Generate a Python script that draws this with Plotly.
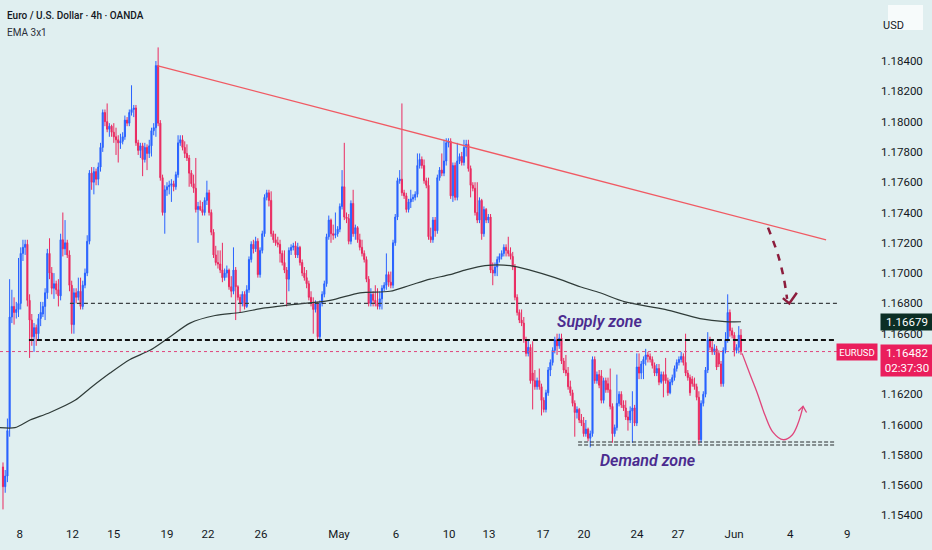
import plotly.graph_objects as go

# ---------------- data ----------------
opens = [
    1.1572, 1.1559, 1.1566, 1.1598, 1.1671, 1.1678, 1.1674, 1.1676, 1.1680, 1.1713,
    1.1717, 1.1719, 1.1682, 1.1669, 1.1658, 1.1664, 1.1660, 1.1670, 1.1673, 1.1678,
    1.1687, 1.1713, 1.1700, 1.1690, 1.1693, 1.1689, 1.1685, 1.1722, 1.1716, 1.1720,
    1.1712, 1.1692, 1.1666, 1.1687, 1.1684, 1.1688, 1.1678, 1.1692, 1.1700, 1.1721,
    1.1766, 1.1760, 1.1767, 1.1762, 1.1770, 1.1783, 1.1806, 1.1800, 1.1795, 1.1797,
    1.1793, 1.1790, 1.1788, 1.1786, 1.1787, 1.1790, 1.1801, 1.1799, 1.1806, 1.1808,
    1.1809, 1.1786, 1.1781, 1.1784, 1.1775, 1.1783,
    1.1779, 1.1784, 1.1794, 1.1796, 1.1837, 1.1799, 1.1763, 1.1740, 1.1755, 1.1757,
    1.1758, 1.1759, 1.1757, 1.1765, 1.1786, 1.1788, 1.1783, 1.1779, 1.1776, 1.1766,
    1.1759, 1.1756, 1.1742, 1.1744, 1.1742, 1.1740, 1.1748, 1.1753, 1.1740, 1.1727,
    1.1712, 1.1707, 1.1706, 1.1702, 1.1697, 1.1700, 1.1702, 1.1691, 1.1688, 1.1702,
    1.1691, 1.1684, 1.1680, 1.1686, 1.1678, 1.1689, 1.1709, 1.1719, 1.1716, 1.1721,
    1.1699, 1.1715, 1.1726, 1.1750, 1.1753, 1.1748, 1.1726, 1.1722, 1.1720, 1.1719,
    1.1713, 1.1707, 1.1702, 1.1696, 1.1715, 1.1717, 1.1718,
    1.1712, 1.1717, 1.1707, 1.1700, 1.1697, 1.1693, 1.1684, 1.1680, 1.1676, 1.1680,
    1.1658, 1.1680, 1.1686, 1.1693, 1.1724, 1.1735, 1.1726, 1.1725, 1.1726, 1.1729,
    1.1744, 1.1757, 1.1737, 1.1736, 1.1721, 1.1746, 1.1726, 1.1730, 1.1722, 1.1717,
    1.1713, 1.1709, 1.1696, 1.1680, 1.1686, 1.1682, 1.1680, 1.1678, 1.1683, 1.1690,
    1.1692, 1.1699, 1.1694, 1.1692, 1.1720, 1.1737, 1.1761, 1.1762, 1.1753, 1.1751,
    1.1742, 1.1747, 1.1749, 1.1750, 1.1752, 1.1771, 1.1775, 1.1771, 1.1761, 1.1758,
    1.1724, 1.1722, 1.1735, 1.1728, 1.1763, 1.1768, 1.1766, 1.1774, 1.1786,
    1.1787, 1.1751, 1.1771, 1.1750, 1.1774, 1.1777, 1.1773, 1.1783, 1.1785, 1.1769,
    1.1758, 1.1756, 1.1740, 1.1735, 1.1748, 1.1726, 1.1742, 1.1735, 1.1737, 1.1702,
    1.1700, 1.1704, 1.1709, 1.1711, 1.1713, 1.1717, 1.1715, 1.1713, 1.1711, 1.1704,
    1.1684, 1.1674, 1.1669, 1.1667, 1.1656, 1.1647, 1.1651, 1.1634, 1.1629, 1.1625,
    1.1629, 1.1625, 1.1616, 1.1610, 1.1621, 1.1636, 1.1641, 1.1649, 1.1656, 1.1652,
    1.1657, 1.1642, 1.1636, 1.1634, 1.1625, 1.1621, 1.1614, 1.1608, 1.1610, 1.1603,
    1.1601, 1.1594, 1.1597, 1.1591, 1.1594, 1.1643, 1.1629, 1.1633,
    1.1632, 1.1616, 1.1629, 1.1627, 1.1623, 1.1612, 1.1594, 1.1598, 1.1614, 1.1620,
    1.1613, 1.1611, 1.1605, 1.1603, 1.1609, 1.1611, 1.1601, 1.1638, 1.1634, 1.1640,
    1.1643, 1.1646, 1.1645, 1.1643, 1.1639, 1.1634, 1.1637, 1.1628, 1.1633, 1.1633,
    1.1629, 1.1621, 1.1628, 1.1631, 1.1637, 1.1641, 1.1643, 1.1645, 1.1641, 1.1634,
    1.1631, 1.1630, 1.1627, 1.1625, 1.1618, 1.1590, 1.1614, 1.1620, 1.1636, 1.1656,
    1.1651, 1.1648, 1.1650, 1.1647, 1.1640, 1.1627, 1.1649, 1.1656, 1.1674, 1.1662,
    1.1659, 1.1649, 1.1651, 1.1659,
]
highs = [
    1.1575, 1.1570, 1.1604, 1.1696, 1.1689, 1.1684, 1.1681, 1.1710, 1.1717, 1.1722,
    1.1722, 1.1722, 1.1686, 1.1673, 1.1667, 1.1666, 1.1673, 1.1681, 1.1681, 1.1690,
    1.1716, 1.1723, 1.1704, 1.1700, 1.1695, 1.1696, 1.1726, 1.1740, 1.1735, 1.1722,
    1.1715, 1.1695, 1.1690, 1.1690, 1.1697, 1.1697, 1.1695, 1.1703, 1.1725, 1.1768,
    1.1770, 1.1770, 1.1769, 1.1773, 1.1786, 1.1808, 1.1808, 1.1812, 1.1799, 1.1798,
    1.1799, 1.1796, 1.1791, 1.1792, 1.1793, 1.1804, 1.1803, 1.1808, 1.1824, 1.1811,
    1.1811, 1.1788, 1.1786, 1.1786, 1.1786, 1.1785,
    1.1788, 1.1796, 1.1799, 1.1840, 1.1849, 1.1801, 1.1765, 1.1758, 1.1760, 1.1761,
    1.1762, 1.1761, 1.1767, 1.1791, 1.1791, 1.1791, 1.1787, 1.1785, 1.1778, 1.1768,
    1.1765, 1.1776, 1.1747, 1.1748, 1.1747, 1.1750, 1.1761, 1.1755, 1.1742, 1.1729,
    1.1718, 1.1715, 1.1715, 1.1720, 1.1703, 1.1705, 1.1703, 1.1698, 1.1717, 1.1704,
    1.1692, 1.1686, 1.1688, 1.1688, 1.1692, 1.1711, 1.1721, 1.1722, 1.1724, 1.1723,
    1.1717, 1.1728, 1.1752, 1.1755, 1.1755, 1.1754, 1.1728, 1.1726, 1.1724, 1.1722,
    1.1715, 1.1715, 1.1704, 1.1717, 1.1719, 1.1720, 1.1721,
    1.1720, 1.1718, 1.1709, 1.1704, 1.1702, 1.1695, 1.1688, 1.1684, 1.1682, 1.1681,
    1.1682, 1.1688, 1.1695, 1.1726, 1.1738, 1.1736, 1.1732, 1.1740, 1.1731, 1.1746,
    1.1768, 1.1786, 1.1740, 1.1739, 1.1748, 1.1755, 1.1732, 1.1731, 1.1726, 1.1722,
    1.1715, 1.1711, 1.1698, 1.1690, 1.1688, 1.1692, 1.1690, 1.1688, 1.1692, 1.1694,
    1.1713, 1.1701, 1.1701, 1.1722, 1.1739, 1.1763, 1.1768, 1.1812, 1.1755, 1.1753,
    1.1749, 1.1755, 1.1752, 1.1754, 1.1779, 1.1779, 1.1777, 1.1775, 1.1763, 1.1763,
    1.1730, 1.1737, 1.1737, 1.1765, 1.1770, 1.1779, 1.1788, 1.1789, 1.1789,
    1.1789, 1.1773, 1.1773, 1.1786, 1.1779, 1.1780, 1.1788, 1.1788, 1.1788, 1.1771,
    1.1760, 1.1760, 1.1760, 1.1750, 1.1749, 1.1744, 1.1743, 1.1739, 1.1739, 1.1707,
    1.1707, 1.1711, 1.1713, 1.1715, 1.1719, 1.1719, 1.1724, 1.1717, 1.1714, 1.1706,
    1.1686, 1.1676, 1.1676, 1.1671, 1.1658, 1.1656, 1.1653, 1.1655, 1.1636, 1.1631,
    1.1637, 1.1627, 1.1618, 1.1623, 1.1638, 1.1643, 1.1651, 1.1658, 1.1660, 1.1660,
    1.1660, 1.1644, 1.1646, 1.1638, 1.1629, 1.1623, 1.1616, 1.1612, 1.1611, 1.1607,
    1.1605, 1.1603, 1.1598, 1.1596, 1.1645, 1.1645, 1.1635, 1.1636,
    1.1636, 1.1631, 1.1631, 1.1631, 1.1637, 1.1614, 1.1600, 1.1633, 1.1622, 1.1622,
    1.1616, 1.1616, 1.1609, 1.1612, 1.1622, 1.1613, 1.1647, 1.1647, 1.1642, 1.1645,
    1.1650, 1.1648, 1.1647, 1.1645, 1.1641, 1.1640, 1.1640, 1.1635, 1.1635, 1.1644,
    1.1631, 1.1630, 1.1633, 1.1639, 1.1643, 1.1645, 1.1648, 1.1647, 1.1660, 1.1636,
    1.1633, 1.1632, 1.1631, 1.1627, 1.1622, 1.1616, 1.1622, 1.1638, 1.1661, 1.1658,
    1.1656, 1.1653, 1.1652, 1.1649, 1.1642, 1.1651, 1.1661, 1.1686, 1.1676, 1.1664,
    1.1661, 1.1653, 1.1665, 1.1663,
]
lows = [
    1.1544, 1.1555, 1.1562, 1.1592, 1.1667, 1.1666, 1.1670, 1.1671, 1.1676, 1.1708,
    1.1712, 1.1678, 1.1644, 1.1652, 1.1648, 1.1652, 1.1656, 1.1665, 1.1671, 1.1669,
    1.1683, 1.1696, 1.1686, 1.1683, 1.1686, 1.1678, 1.1682, 1.1711, 1.1712, 1.1710,
    1.1688, 1.1660, 1.1660, 1.1680, 1.1682, 1.1676, 1.1676, 1.1690, 1.1698, 1.1719,
    1.1755, 1.1752, 1.1758, 1.1758, 1.1767, 1.1780, 1.1797, 1.1793, 1.1790, 1.1790,
    1.1786, 1.1778, 1.1773, 1.1782, 1.1785, 1.1788, 1.1797, 1.1797, 1.1804, 1.1803,
    1.1784, 1.1778, 1.1776, 1.1764, 1.1773, 1.1768,
    1.1776, 1.1777, 1.1791, 1.1790, 1.1797, 1.1761, 1.1738, 1.1726, 1.1751, 1.1752,
    1.1747, 1.1754, 1.1755, 1.1763, 1.1784, 1.1781, 1.1776, 1.1774, 1.1757, 1.1757,
    1.1753, 1.1740, 1.1720, 1.1741, 1.1738, 1.1738, 1.1745, 1.1738, 1.1725, 1.1710,
    1.1705, 1.1703, 1.1700, 1.1694, 1.1695, 1.1697, 1.1689, 1.1684, 1.1686, 1.1669,
    1.1682, 1.1674, 1.1678, 1.1676, 1.1677, 1.1687, 1.1707, 1.1713, 1.1714, 1.1697,
    1.1697, 1.1713, 1.1724, 1.1748, 1.1744, 1.1724, 1.1720, 1.1718, 1.1717, 1.1707,
    1.1705, 1.1700, 1.1678, 1.1688, 1.1712, 1.1715, 1.1710,
    1.1710, 1.1705, 1.1698, 1.1695, 1.1690, 1.1682, 1.1678, 1.1660, 1.1674, 1.1656,
    1.1656, 1.1678, 1.1684, 1.1691, 1.1722, 1.1720, 1.1722, 1.1723, 1.1724, 1.1727,
    1.1742, 1.1735, 1.1733, 1.1719, 1.1719, 1.1724, 1.1722, 1.1720, 1.1715, 1.1711,
    1.1707, 1.1694, 1.1678, 1.1678, 1.1678, 1.1678, 1.1676, 1.1676, 1.1676, 1.1688,
    1.1689, 1.1691, 1.1690, 1.1690, 1.1718, 1.1735, 1.1759, 1.1751, 1.1749, 1.1740,
    1.1740, 1.1743, 1.1747, 1.1748, 1.1750, 1.1769, 1.1769, 1.1759, 1.1756, 1.1722,
    1.1720, 1.1720, 1.1724, 1.1726, 1.1761, 1.1764, 1.1764, 1.1771, 1.1783,
    1.1749, 1.1747, 1.1748, 1.1748, 1.1772, 1.1771, 1.1771, 1.1777, 1.1767, 1.1750,
    1.1754, 1.1738, 1.1733, 1.1733, 1.1722, 1.1724, 1.1733, 1.1733, 1.1700, 1.1692,
    1.1698, 1.1698, 1.1707, 1.1709, 1.1711, 1.1711, 1.1711, 1.1709, 1.1702, 1.1682,
    1.1672, 1.1667, 1.1665, 1.1654, 1.1645, 1.1645, 1.1627, 1.1610, 1.1623, 1.1623,
    1.1623, 1.1606, 1.1608, 1.1608, 1.1619, 1.1632, 1.1639, 1.1647, 1.1646, 1.1650,
    1.1640, 1.1634, 1.1632, 1.1623, 1.1619, 1.1612, 1.1592, 1.1604, 1.1601, 1.1599,
    1.1592, 1.1592, 1.1589, 1.1585, 1.1592, 1.1627, 1.1627, 1.1624,
    1.1614, 1.1614, 1.1621, 1.1621, 1.1610, 1.1588, 1.1592, 1.1596, 1.1612, 1.1611,
    1.1609, 1.1603, 1.1596, 1.1601, 1.1588, 1.1599, 1.1599, 1.1630, 1.1630, 1.1630,
    1.1639, 1.1641, 1.1641, 1.1637, 1.1632, 1.1632, 1.1626, 1.1627, 1.1618, 1.1627,
    1.1619, 1.1620, 1.1626, 1.1629, 1.1635, 1.1639, 1.1641, 1.1639, 1.1632, 1.1629,
    1.1619, 1.1625, 1.1623, 1.1616, 1.1587, 1.1588, 1.1612, 1.1618, 1.1634, 1.1649,
    1.1646, 1.1646, 1.1636, 1.1638, 1.1625, 1.1625, 1.1647, 1.1654, 1.1658, 1.1657,
    1.1645, 1.1647, 1.1647, 1.1646,
]
closes = [
    1.1559, 1.1566, 1.1596, 1.1671, 1.1678, 1.1674, 1.1676, 1.1680, 1.1713, 1.1717,
    1.1719, 1.1682, 1.1669, 1.1658, 1.1664, 1.1660, 1.1670, 1.1674, 1.1678, 1.1687,
    1.1713, 1.1700, 1.1690, 1.1693, 1.1689, 1.1685, 1.1722, 1.1716, 1.1720, 1.1712,
    1.1692, 1.1666, 1.1687, 1.1684, 1.1688, 1.1678, 1.1692, 1.1700, 1.1721, 1.1766,
    1.1760, 1.1767, 1.1762, 1.1770, 1.1783, 1.1806, 1.1800, 1.1795, 1.1797, 1.1793,
    1.1790, 1.1788, 1.1786, 1.1787, 1.1790, 1.1801, 1.1799, 1.1806, 1.1808, 1.1809,
    1.1786, 1.1781, 1.1784, 1.1775, 1.1783, 1.1779,
    1.1784, 1.1794, 1.1796, 1.1837, 1.1799, 1.1763, 1.1740, 1.1755, 1.1757, 1.1758,
    1.1759, 1.1757, 1.1765, 1.1786, 1.1788, 1.1783, 1.1779, 1.1776, 1.1766, 1.1759,
    1.1756, 1.1742, 1.1744, 1.1742, 1.1740, 1.1748, 1.1753, 1.1740, 1.1727, 1.1712,
    1.1707, 1.1706, 1.1702, 1.1697, 1.1700, 1.1702, 1.1691, 1.1688, 1.1702, 1.1691,
    1.1684, 1.1680, 1.1686, 1.1678, 1.1689, 1.1709, 1.1719, 1.1716, 1.1721, 1.1699,
    1.1715, 1.1726, 1.1750, 1.1753, 1.1748, 1.1726, 1.1722, 1.1720, 1.1719, 1.1713,
    1.1707, 1.1702, 1.1696, 1.1715, 1.1717, 1.1718, 1.1712,
    1.1717, 1.1707, 1.1700, 1.1697, 1.1693, 1.1684, 1.1680, 1.1676, 1.1680, 1.1658,
    1.1680, 1.1686, 1.1693, 1.1724, 1.1735, 1.1726, 1.1725, 1.1726, 1.1729, 1.1744,
    1.1757, 1.1737, 1.1736, 1.1721, 1.1746, 1.1726, 1.1730, 1.1722, 1.1717, 1.1713,
    1.1709, 1.1696, 1.1680, 1.1686, 1.1682, 1.1680, 1.1678, 1.1683, 1.1690, 1.1692,
    1.1699, 1.1694, 1.1692, 1.1720, 1.1737, 1.1761, 1.1762, 1.1753, 1.1751, 1.1742,
    1.1747, 1.1749, 1.1750, 1.1752, 1.1771, 1.1775, 1.1771, 1.1761, 1.1758, 1.1724,
    1.1722, 1.1735, 1.1728, 1.1763, 1.1768, 1.1766, 1.1774, 1.1786, 1.1787,
    1.1751, 1.1771, 1.1750, 1.1774, 1.1777, 1.1773, 1.1783, 1.1785, 1.1769, 1.1758,
    1.1756, 1.1740, 1.1735, 1.1748, 1.1726, 1.1742, 1.1735, 1.1737, 1.1702, 1.1700,
    1.1704, 1.1709, 1.1711, 1.1713, 1.1717, 1.1715, 1.1713, 1.1711, 1.1704, 1.1684,
    1.1674, 1.1669, 1.1667, 1.1656, 1.1647, 1.1651, 1.1629, 1.1629, 1.1625, 1.1629,
    1.1625, 1.1616, 1.1610, 1.1621, 1.1636, 1.1641, 1.1649, 1.1656, 1.1652, 1.1657,
    1.1642, 1.1636, 1.1634, 1.1625, 1.1621, 1.1614, 1.1608, 1.1610, 1.1603, 1.1601,
    1.1594, 1.1597, 1.1591, 1.1594, 1.1643, 1.1629, 1.1633, 1.1626,
    1.1616, 1.1629, 1.1623, 1.1623, 1.1612, 1.1594, 1.1598, 1.1614, 1.1620, 1.1613,
    1.1611, 1.1605, 1.1603, 1.1609, 1.1611, 1.1601, 1.1638, 1.1634, 1.1640, 1.1643,
    1.1646, 1.1645, 1.1643, 1.1639, 1.1634, 1.1637, 1.1628, 1.1633, 1.1629, 1.1629,
    1.1621, 1.1628, 1.1631, 1.1637, 1.1641, 1.1643, 1.1645, 1.1641, 1.1634, 1.1631,
    1.1621, 1.1627, 1.1625, 1.1618, 1.1590, 1.1614, 1.1620, 1.1636, 1.1656, 1.1651,
    1.1648, 1.1650, 1.1638, 1.1640, 1.1627, 1.1649, 1.1656, 1.1674, 1.1662, 1.1659,
    1.1649, 1.1651, 1.1659, 1.16482,
]

# EMA line (candle index, value)
ema_idx = [-1.4, 5.4, 12.2, 21.2, 32.5, 39.3, 48.3, 57.3, 66.3, 75.4, 84.4, 95.7,
           106.9, 118.2, 129.5, 147.6, 161.1, 174.6, 183.7, 192.7, 201.7, 208.5,
           217.5, 228.8, 237.8, 249.1, 260.4, 269.4, 280.7, 298.7, 314.5, 325.8, 333]
ema_val = [1.1598, 1.1598, 1.1603, 1.1608, 1.1616, 1.1624, 1.1634, 1.1643, 1.1649,
           1.1658, 1.1667, 1.1672, 1.1674, 1.1677, 1.1679, 1.1682, 1.1687, 1.1688,
           1.1692, 1.1696, 1.1699, 1.1702, 1.1705, 1.1705, 1.1702, 1.1697, 1.1691,
           1.1687, 1.1681, 1.1676, 1.1670, 1.1668, 1.16679]

# date axis
date_tick_idx = [7.5, 31.4, 50.0, 74.0, 92.5, 116.4, 151.6, 177.3, 201.3, 219.3,
                 243.7, 262.2, 286.1, 304.6, 329.9, 355.2, 380.9]
date_tick_labels = ["8", "12", "15", "19", "22", "26", "May", "6", "10", "13",
                    "17", "20", "24", "27", "Jun", "4", "9"]
# price scale labels (1.16400 is hidden behind the last-price tag in the reference)
price_ticks = [1.154, 1.156, 1.158, 1.160, 1.162, 1.166, 1.168, 1.170,
               1.172, 1.174, 1.176, 1.178, 1.180, 1.182, 1.184]

# drawings
trend_x = [69.5, 371.4]
trend_y = [1.1837, 1.1722]
resistance_level = 1.1680
resistance_x = [30.2, 376.8]
supply_level = 1.16558
supply_x = [11.7, 375.5]
demand_levels = [1.15885, 1.15865]
demand_x = [259.5, 375.5]
last_price = 1.16482
ema_last = 1.16679

drop_arrow_x = [345.2, 349.7, 352.4, 353.8]
drop_arrow_y = [1.1730, 1.1712, 1.1696, 1.1683]
drop_head_x = [351.9, 354.8, 358.2]
drop_head_y = [1.16835, 1.1680, 1.1687]

bounce_x = [333.5, 337.1, 340.3, 343.9, 347.4, 352.0, 356.0, 358.8, 361.0]
bounce_y = [1.1647, 1.1633, 1.1621, 1.1606, 1.1595, 1.1590, 1.1593, 1.1601, 1.1612]
bounce_head_x = [358.9, 361.0, 362.6]
bounce_head_y = [1.1609, 1.1612, 1.1608]

# ---------------- styling ----------------
BG = "#e0eff0"
UP = "#2962ff"
DOWN = "#ea2a60"
TXT = "#131722"
FONT = "Roboto, 'Open Sans', sans-serif"

W, H = 932, 550
PLOT_W = 858
PLOT_H = 525

n = min(len(opens), len(highs), len(lows), len(closes))
xs = list(range(n))

fig = go.Figure()

fig.add_trace(go.Candlestick(
    x=xs, open=opens[:n], high=highs[:n], low=lows[:n], close=closes[:n],
    increasing=dict(line=dict(color=UP, width=1), fillcolor=UP),
    decreasing=dict(line=dict(color=DOWN, width=1), fillcolor=DOWN),
    whiskerwidth=0, hoverinfo="skip", showlegend=False,
))

# EMA
fig.add_trace(go.Scatter(x=ema_idx, y=ema_val, mode="lines",
                         line=dict(color="#2f3b38", width=1.2, shape="spline", smoothing=0.8),
                         hoverinfo="skip", showlegend=False))

# trend line
fig.add_trace(go.Scatter(x=trend_x, y=trend_y, mode="lines",
                         line=dict(color="#f05a63", width=1.3),
                         hoverinfo="skip", showlegend=False))

# horizontal levels
fig.add_trace(go.Scatter(x=resistance_x, y=[resistance_level] * 2, mode="lines",
                         line=dict(color="#3c4043", width=1.2, dash="4px,3px"),
                         hoverinfo="skip", showlegend=False))
fig.add_trace(go.Scatter(x=supply_x, y=[supply_level] * 2, mode="lines",
                         line=dict(color="#111111", width=2, dash="5px,3px"),
                         hoverinfo="skip", showlegend=False))
for lvl in demand_levels:
    fig.add_trace(go.Scatter(x=demand_x, y=[lvl] * 2, mode="lines",
                             line=dict(color="#2a2e30", width=1.2, dash="4px,2px"),
                             hoverinfo="skip", showlegend=False))

# projected arrows
fig.add_trace(go.Scatter(x=drop_arrow_x, y=drop_arrow_y, mode="lines",
                         line=dict(color="#8c1c3c", width=2.5, dash="7px,7px", shape="spline"),
                         hoverinfo="skip", showlegend=False))
fig.add_trace(go.Scatter(x=drop_head_x, y=drop_head_y, mode="lines",
                         line=dict(color="#8c1c3c", width=2.5),
                         hoverinfo="skip", showlegend=False))
fig.add_trace(go.Scatter(x=bounce_x, y=bounce_y, mode="lines",
                         line=dict(color="#e0457b", width=1.3, shape="spline"),
                         hoverinfo="skip", showlegend=False))
fig.add_trace(go.Scatter(x=bounce_head_x, y=bounce_head_y, mode="lines",
                         line=dict(color="#e0457b", width=1.3),
                         hoverinfo="skip", showlegend=False))

# current price dotted line
fig.add_shape(type="line", xref="paper", yref="y", x0=0, x1=842 / PLOT_W,
              y0=last_price, y1=last_price,
              line=dict(color="#e0457b", width=1, dash="dot"))

# USD box
fig.add_shape(type="rect", xref="paper", yref="paper",
              x0=888 / PLOT_W, x1=923 / PLOT_W,
              y0=(PLOT_H - 30) / PLOT_H, y1=(PLOT_H - 5) / PLOT_H,
              fillcolor="#f7fbfb", line=dict(width=0), layer="above")

ann = []
ann.append(dict(text="USD", xref="paper", yref="paper", x=905.5 / PLOT_W,
                y=(PLOT_H - 17.5) / PLOT_H, showarrow=False,
                font=dict(size=11, color=TXT, family=FONT)))
ann.append(dict(text="Euro / U.S. Dollar · 4h · OANDA", xref="paper", yref="paper",
                x=5 / PLOT_W, y=(PLOT_H - 16) / PLOT_H, xanchor="left", yanchor="middle",
                showarrow=False, font=dict(size=10, color=TXT, family=FONT, weight=500)))
ann.append(dict(text="EMA 3x1", xref="paper", yref="paper",
                x=5 / PLOT_W, y=(PLOT_H - 33) / PLOT_H, xanchor="left", yanchor="middle",
                showarrow=False, font=dict(size=10, color="#2a2e39", family=FONT)))
ann.append(dict(text="Supply zone", xref="x", yref="y", x=249, y=1.1668,
                xanchor="left", yanchor="middle", showarrow=False,
                font=dict(size=16, color="#4b2b8f", family=FONT, style="italic", weight=600)))
ann.append(dict(text="Demand zone", xref="x", yref="y", x=268.5, y=1.1576,
                xanchor="left", yanchor="middle", showarrow=False,
                font=dict(size=16, color="#4b2b8f", family=FONT, style="italic", weight=600)))
# axis labels on the right
ann.append(dict(text="1.16679", xref="paper", yref="y", x=880 / PLOT_W, y=ema_last,
                xanchor="left", yanchor="middle", showarrow=False, width=50, height=14,
                bgcolor="#0b2e25", borderpad=1,
                font=dict(size=11.5, color="#ffffff", family=FONT)))
ann.append(dict(text="EURUSD", xref="paper", yref="y", x=878 / PLOT_W, y=last_price,
                xanchor="right", yanchor="middle", showarrow=False, width=38, height=14,
                bgcolor="#ea1e5c", borderpad=1,
                font=dict(size=9.5, color="#ffffff", family=FONT)))
ann.append(dict(text="1.16482<br>02:37:30", xref="paper", yref="y", x=880 / PLOT_W,
                y=last_price, xanchor="left", yanchor="top", yshift=8, showarrow=False,
                width=50, bgcolor="#ea1e5c", borderpad=1,
                font=dict(size=11.5, color="#ffffff", family=FONT)))

fig.update_layout(
    width=W, height=H,
    margin=dict(l=0, r=W - PLOT_W, t=0, b=H - PLOT_H),
    paper_bgcolor=BG, plot_bgcolor=BG,
    showlegend=False,
    font=dict(family=FONT, color=TXT, size=11),
    annotations=ann,
    xaxis=dict(
        range=[-1.35, 385.8], rangeslider=dict(visible=False),
        tickmode="array", tickvals=date_tick_idx, ticktext=date_tick_labels,
        showgrid=False, zeroline=False, showline=False, ticks="",
        tickfont=dict(size=11.5, color=TXT, family=FONT), fixedrange=True,
    ),
    yaxis=dict(
        side="right", range=[1.15337, 1.18803],
        tickmode="array", tickvals=price_ticks,
        ticktext=[f"{v:.5f}" for v in price_ticks],
        showgrid=False, zeroline=False, showline=False, ticks="",
        ticklabelstandoff=22,
        tickfont=dict(size=11.5, color=TXT, family=FONT), fixedrange=True,
    ),
)

fig.write_html(
    "out.html",
    config={"displayModeBar": False, "staticPlot": True},
    post_script="document.body.style.margin='0';document.body.style.padding='0';"
                "document.body.style.overflow='hidden';",
)
